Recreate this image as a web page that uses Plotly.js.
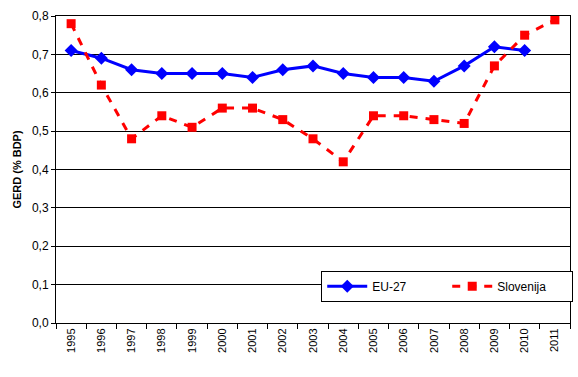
<!DOCTYPE html>
<html>
<head>
<meta charset="utf-8">
<script src="https://cdn.plot.ly/plotly-3.0.1.min.js"></script>
<style>html,body{margin:0;padding:0;background:#fff;}#chart{width:578px;height:377px;}</style>
</head>
<body>
<div id="chart"></div>
<script>
var years = ["1995","1996","1997","1998","1999","2000","2001","2002","2003","2004","2005","2006","2007","2008","2009","2010","2011"];
var eu27 = [0.71,0.69,0.66,0.65,0.65,0.65,0.64,0.66,0.67,0.65,0.64,0.64,0.63,0.67,0.72,0.71,null];
var slovenija = [0.78,0.62,0.48,0.54,0.51,0.56,0.56,0.53,0.48,0.42,0.54,0.54,0.53,0.52,0.67,0.75,0.79];
var yTicks = [0,0.1,0.2,0.3,0.4,0.5,0.6,0.7,0.8];
var yTickText = ["0,0","0,1","0,2","0,3","0,4","0,5","0,6","0,7","0,8"];

var traces = [
  {x: years, y: eu27, name: "EU-27", type: "scatter", mode: "lines+markers",
   line: {color: "#0000FF", width: 3}, marker: {symbol: "diamond", size: 10, color: "#0000FF"}},
  {x: years, y: slovenija, name: "Slovenija", type: "scatter", mode: "lines+markers",
   line: {color: "#FF0000", width: 3, dash: "8px,8px"}, marker: {symbol: "square", size: 9, color: "#FF0000"}}
];
var layout = {
  width: 578, height: 377,
  margin: {l: 56, r: 5, t: 16, b: 54},
  paper_bgcolor: "#fff", plot_bgcolor: "#fff",
  font: {family: "Arial, Liberation Sans, sans-serif", size: 11, color: "#000"},
  showlegend: true,
  legend: {x: 0.516, y: 0.17, xanchor: "left", yanchor: "top", orientation: "h",
           bordercolor: "#000", borderwidth: 1, bgcolor: "#fff",
           font: {size: 12}, itemwidth: 40, entrywidth: 70, traceorder: "normal"},
  xaxis: {type: "category", range: [-0.5, 16.5], tickangle: -90, ticks: "outside", tickson: "boundaries",
          ticklen: 5, tickcolor: "#000", showline: true, linecolor: "#000", linewidth: 1, mirror: true,
          showgrid: false, zeroline: false, tickfont: {size: 11}},
  yaxis: {range: [0, 0.8], tickvals: yTicks, ticktext: yTickText, ticks: "outside", ticklen: 4,
          tickcolor: "#000", showline: true, linecolor: "#000", linewidth: 1, mirror: true,
          showgrid: true, gridcolor: "#000", gridwidth: 1, zeroline: false, tickfont: {size: 12},
          title: {text: "<b>GERD (% BDP)</b>", font: {size: 11}, standoff: 8}}
};
Plotly.newPlot("chart", traces, layout, {displayModeBar: false, staticPlot: true});
</script>
</body>
</html>
